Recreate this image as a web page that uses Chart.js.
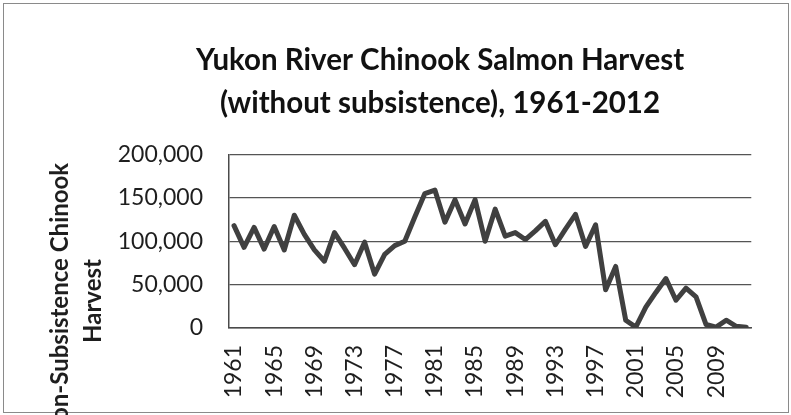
<!DOCTYPE html>
<html>
<head>
<meta charset="utf-8">
<script src="https://cdn.jsdelivr.net/npm/chart.js@4.4.1/dist/chart.umd.min.js"></script>
<style>
  html, body { margin: 0; padding: 0; background: #fff; }
  #wrap { position: relative; width: 791px; height: 415px; overflow: hidden; }
  #frame { position: absolute; left: 3px; top: 3px; width: 784px; height: 408px; border: 1px solid #8a8a8a; }
  #c { position: absolute; left: 0; top: 0; }
</style>
</head>
<body>
<div id="wrap">
  <div id="frame"></div>
  <canvas id="c" width="791" height="415"></canvas>
</div>
<script>
// ---- data ----
const titleLines = ["Yukon River Chinook Salmon Harvest", "(without subsistence), 1961-2012"];
const yTitleLines = ["Non-Subsistence Chinook", "Harvest"];
const years = ["1961","1962","1963","1964","1965","1966","1967","1968","1969","1970",
  "1971","1972","1973","1974","1975","1976","1977","1978","1979","1980",
  "1981","1982","1983","1984","1985","1986","1987","1988","1989","1990",
  "1991","1992","1993","1994","1995","1996","1997","1998","1999","2000",
  "2001","2002","2003","2004","2005","2006","2007","2008","2009","2010",
  "2011","2012"];
const harvest = [118000, 93000, 116000, 91000, 117000, 90000, 130000, 108000, 90000, 77000,
  110000, 92000, 73000, 99000, 62000, 85000, 95000, 100000, 128000, 155000,
  159000, 122000, 148000, 120000, 148000, 100000, 137000, 106000, 110000, 102000,
  112000, 123000, 96000, 114000, 131000, 94000, 119000, 44000, 71000, 9000,
  1000, 24000, 41000, 57000, 32000, 46000, 36000, 4000, 1000, 9000,
  2000, 1000];
const yTicks = [0, 50000, 100000, 150000, 200000];
const labelEvery = 4;

const FONT = "Lato, 'Open Sans', sans-serif";

const yTitlePlugin = {
  id: 'yTitlePlugin',
  afterDraw(chart) {
    const ctx = chart.ctx;
    const a = chart.chartArea;
    ctx.save();
    ctx.font = "bold 24px " + FONT;
    ctx.fillStyle = '#1e1e1e';
    ctx.textAlign = 'center';
    ctx.textBaseline = 'middle';
    yTitleLines.forEach((t, i) => {
      ctx.save();
      ctx.translate(a.left - 169 + i * 33, a.bottom - 27);
      ctx.rotate(-Math.PI / 2);
      ctx.fillText(t, 0, 0);
      ctx.restore();
    });
    ctx.restore();
  }
};

function draw() {
  Chart.defaults.font.family = FONT;
  Chart.defaults.color = '#1e1e1e';
  new Chart(document.getElementById('c'), {
    type: 'line',
    data: {
      labels: years,
      datasets: [{
        data: harvest,
        borderColor: '#404040',
        borderWidth: 5,
        pointRadius: 0,
        tension: 0,
        borderJoinStyle: 'round',
        borderCapStyle: 'round',
        fill: false
      }]
    },
    options: {
      responsive: false,
      animation: false,
      layout: { padding: { left: 104, right: 15, top: 0, bottom: 0 } },
      plugins: {
        legend: { display: false },
        tooltip: { enabled: false },
        title: {
          display: true,
          text: titleLines,
          color: '#111',
          font: { size: 29.5, weight: 'bold', lineHeight: 1.45 },
          padding: { top: 39, bottom: 30 }
        }
      },
      scales: {
        x: {
          offset: true,
          grid: { display: false, drawTicks: false },
          border: { display: true, color: '#4a4a4a', width: 1.5 },
          ticks: {
            autoSkip: false,
            maxRotation: 90,
            minRotation: 90,
            padding: 17,
            font: { size: 23 },
            callback: function (v, i) { return i % labelEvery === 0 ? years[i] : ''; }
          },
          afterFit: function (s) { s.height = 87; }
        },
        y: {
          min: 0,
          max: 200000,
          afterBuildTicks: function (s) { s.ticks = yTicks.map(v => ({ value: v })); },
          grid: { color: '#555', lineWidth: 1.2, drawTicks: false },
          border: { display: true, color: '#4a4a4a', width: 1.5 },
          ticks: {
            padding: 26,
            font: { size: 23 },
            callback: function (v) { return Number(v).toLocaleString('en-US'); }
          },
          afterFit: function (s) { s.width = 125; }
        }
      }
    },
    plugins: [yTitlePlugin]
  });
}

if (document.fonts && document.fonts.load) {
  Promise.all([document.fonts.load("bold 28px Lato"), document.fonts.load("22px Lato")]).then(draw, draw);
} else { draw(); }
</script>
</body>
</html>
